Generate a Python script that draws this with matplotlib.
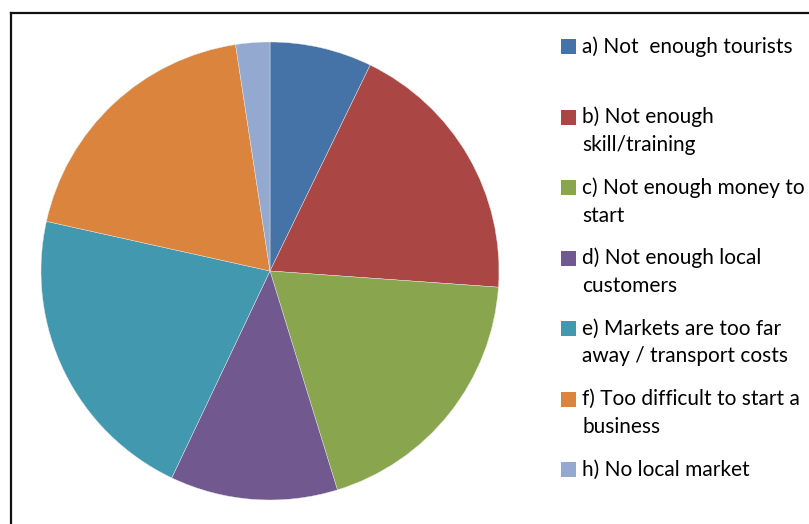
import matplotlib
matplotlib.use("Agg")
import matplotlib.pyplot as plt
from matplotlib.lines import Line2D
from matplotlib.patches import Rectangle

# reasons given (share of answers, %)
labels = [
    "a) Not  enough tourists",
    "b) Not enough\nskill/training",
    "c) Not enough money to\nstart",
    "d) Not enough local\ncustomers",
    "e) Markets are too far\naway / transport costs",
    "f) Too difficult to start a\nbusiness",
    "h) No local market",
]
shares = [7.2, 18.9, 19.1, 11.8, 21.4, 19.1, 2.4]
colors = ["#4572A7", "#AA4643", "#89A54E", "#71588F", "#4198AF", "#DB843D", "#93A9CF"]

W, H = 809, 524
fig = plt.figure(figsize=(W / 100, H / 100), dpi=100)

# pie: centre (270, 271) px, radius 229 px
cx, cy, r = 270, 271, 229
ax = fig.add_axes([(cx - r) / W, (H - cy - r) / H, 2 * r / W, 2 * r / H])
ax.pie(shares, colors=colors, startangle=90, counterclock=False,
       wedgeprops=dict(edgecolor="#e8e8e8", linewidth=0.3))
ax.set_xlim(-1, 1)
ax.set_ylim(-1, 1)
ax.set_aspect("equal")
ax.axis("off")

# chart frame (only left and top edges are inside the picture)
fig.add_artist(Line2D([11 / W, 11 / W], [0, 1 - 13 / H], color="#111111", lw=1.6))
fig.add_artist(Line2D([11 / W, 1], [1 - 13 / H, 1 - 13 / H], color="#111111", lw=1.6))

# legend drawn by hand to keep Excel's spacing
for i, (lab, col) in enumerate(zip(labels, colors)):
    y = 46.5 + i * 70.5
    fig.add_artist(Rectangle((561 / W, 1 - (y + 7.5) / H), 15 / W, 15 / H,
                             transform=fig.transFigure, facecolor=col, edgecolor="none"))
    for j, line in enumerate(lab.split("\n")):
        fig.text(582 / W, 1 - (y + j * 28) / H, line, fontsize=15, family="Lato",
                 color="black", va="center", ha="left")

fig.savefig("out.png", dpi=100)
